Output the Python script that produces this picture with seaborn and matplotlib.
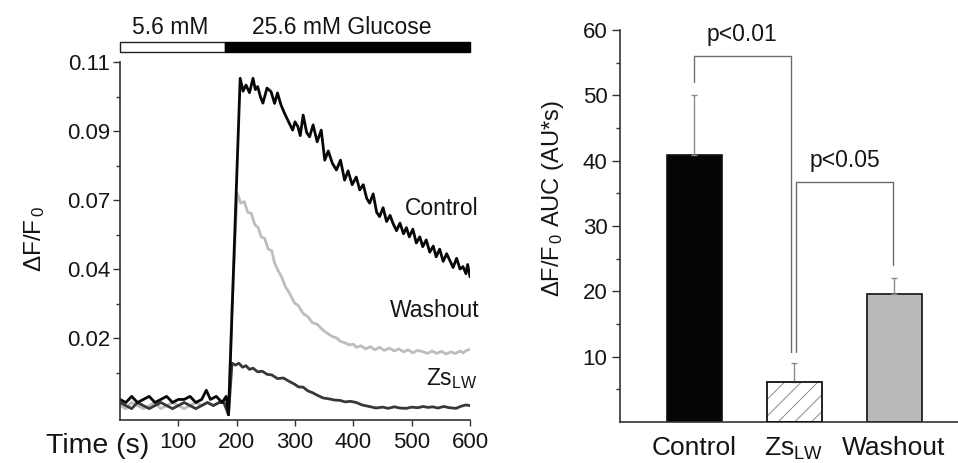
import numpy as np
import pandas as pd
import matplotlib
matplotlib.use("Agg")
import matplotlib.pyplot as plt
import seaborn as sns
from matplotlib.patches import Rectangle

# ---------------- data ----------------
ctrl_t = [0, 10, 20, 30, 40, 50, 60, 70, 80, 90, 100, 110, 120, 130, 140, 148, 155, 165, 175, 182, 186,
          196, 206, 211, 216, 222, 228, 232, 236, 241, 245, 252, 259, 265, 270, 276, 282, 289, 296, 300, 305,
          309, 314, 320, 325, 331, 338, 345, 351, 357, 364, 371, 378, 385, 391, 398, 405, 411, 417, 423, 428,
          434, 440, 445, 451, 457, 463, 468, 474, 480, 486, 491, 496, 502, 508, 514, 519, 525, 531, 537, 542,
          548, 554, 560, 565, 571, 577, 583, 588, 593, 596, 600]
ctrl_v = [0.000, -0.001, 0.001, -0.001, 0.000, 0.001, -0.001, 0.000, 0.001, -0.001, 0.000, 0.000, 0.001, -0.001, 0.000,
          0.003, 0.000, 0.001, -0.001, 0.001, -0.005,
          0.050, 0.1047, 0.1005, 0.1025, 0.1000, 0.1047, 0.1010, 0.1020, 0.0985, 0.0966,
          0.1015, 0.1003, 0.0965, 0.0999, 0.0960, 0.0933, 0.0905, 0.0878, 0.0905, 0.0889,
          0.0860, 0.0927, 0.0870, 0.0856, 0.0895, 0.0840, 0.0878, 0.0780, 0.0810, 0.0770,
          0.0748, 0.0780, 0.0715, 0.0745, 0.0700, 0.0725, 0.0683, 0.0700, 0.0655, 0.0640,
          0.0670, 0.0610, 0.0596, 0.0625, 0.0580, 0.0600, 0.0574, 0.0550, 0.0575, 0.0540,
          0.0560, 0.0530, 0.0555, 0.0510, 0.0530, 0.0498, 0.0520, 0.0480, 0.0500, 0.0465,
          0.0490, 0.0450, 0.0475, 0.0455, 0.0430, 0.0460, 0.0425, 0.0433, 0.0410, 0.0440, 0.0400]

wash_t = [0, 10, 20, 30, 40, 50, 60, 70, 80, 90, 100, 110, 120, 130, 140, 150, 160, 170, 178, 186, 192,
          201, 207, 213, 219, 225, 231, 237, 242, 248, 254, 260, 265, 271, 277, 283, 291,
          299, 306, 314, 322, 330, 338, 348, 356, 364, 372, 377, 385, 393, 400, 405, 413,
          421, 429, 437, 445, 453, 462, 470, 478, 486, 494, 502, 510, 519, 527, 535, 543,
          551, 559, 567, 575, 583, 588, 594, 600]
wash_v = [-0.002, -0.003, -0.001, -0.002, -0.003, -0.002, -0.001, -0.003, -0.002, -0.001, -0.002, -0.003,
          -0.002, -0.001, -0.002, -0.001, -0.002, -0.001, -0.001, -0.004, 0.030,
          0.0672, 0.0640, 0.0645, 0.0610, 0.0607, 0.0570, 0.0560, 0.0530,
          0.0525, 0.0490, 0.0485, 0.0445, 0.0420, 0.0400, 0.0370, 0.0345,
          0.0315, 0.0305, 0.0280, 0.0270, 0.0250, 0.0245, 0.0226, 0.0215,
          0.0205, 0.0200, 0.0190, 0.0185, 0.0178, 0.0180, 0.0170, 0.0175,
          0.0165, 0.0172, 0.0162, 0.0170, 0.0160, 0.0167, 0.0158, 0.0165,
          0.0155, 0.0162, 0.0152, 0.0160, 0.0156, 0.0150, 0.0158, 0.0150,
          0.0157, 0.0148, 0.0155, 0.0150, 0.0158, 0.0152, 0.0160, 0.0163]

zs_t = [0, 10, 20, 30, 40, 50, 60, 70, 80, 90, 100, 110, 120, 130, 140, 150, 160, 170,
        178, 186, 192, 198, 204, 210, 216, 222, 228, 236,
        244, 252, 260, 270, 280, 291, 299, 306, 314, 322,
        330, 340, 348, 358, 368, 377, 386, 395, 405, 415,
        425, 439, 450, 460, 470, 480, 491, 500, 510, 520,
        528, 536, 545, 555, 565, 576, 585, 593, 600]
zs_v = [-0.001, -0.002, -0.003, -0.001, -0.002, -0.003, -0.002, -0.001, -0.002, -0.003, -0.002, -0.001,
        -0.002, -0.003, -0.002, -0.001, -0.002, -0.001,
        -0.001, -0.005, 0.0118, 0.0112, 0.0118, 0.0105, 0.0110, 0.0098, 0.0102, 0.0090,
        0.0092, 0.0082, 0.0080, 0.0068, 0.0070, 0.0058, 0.0050, 0.0041, 0.0040, 0.0028,
        0.0022, 0.0012, 0.0005, 0.0002, -0.0002, -0.0003, -0.0008, -0.0006, -0.0010, -0.0018,
        -0.0022, -0.0028, -0.0025, -0.0029, -0.0024, -0.0028, -0.0029, -0.0025, -0.0027, -0.0023,
        -0.0026, -0.0024, -0.0028, -0.0023, -0.0027, -0.0029, -0.0022, -0.0018, -0.0020]

# left panel ticks (labels as printed)
y1_ticks = [0.02, 0.0425, 0.065, 0.0875, 0.11]
y1_labels = ["0.02", "0.04", "0.07", "0.09", "0.11"]
x1_ticks = [100, 200, 300, 400, 500, 600]

# glucose protocol bar
gluc_start = [0, 180]
gluc_end = [180, 600]
gluc_labels = ["5.6 mM", "25.6 mM Glucose"]

# right panel bars
groups = ["Control", "Zs$_{\\mathrm{LW}}$", "Washout"]
auc = [40.8, 6.1, 19.6]
auc_err = [9.2, 2.9, 2.4]
bar_colors = ["#050505", "#ffffff", "#b9b9b9"]
p_labels = ["p<0.01", "p<0.05"]

# ---------------- style ----------------
sns.set_theme(style="ticks")
plt.rcParams["font.family"] = ["Liberation Sans", "DejaVu Sans"]
plt.rcParams["mathtext.fontset"] = "custom"
plt.rcParams["mathtext.rm"] = "Liberation Sans"
plt.rcParams["mathtext.it"] = "Liberation Sans:italic"
plt.rcParams["mathtext.bf"] = "Liberation Sans:bold"
plt.rcParams["hatch.linewidth"] = 0.7

TXT = "#151515"
SPINE = "#333333"

fig = plt.figure(figsize=(9.58, 4.63), dpi=100)
ax1 = fig.add_axes([120 / 958, 1 - 420 / 463, 350 / 958, 358 / 463])
ax2 = fig.add_axes([620 / 958, 1 - 422 / 463, 338 / 958, 392 / 463])

# ---------------- left panel: traces ----------------
for t, v, c in [(wash_t, wash_v, "#bdbdbd"), (zs_t, zs_v, "#383838"), (ctrl_t, ctrl_v, "#080808")]:
    sns.lineplot(x=t, y=v, ax=ax1, color=c, lw=2.0, estimator=None, sort=False)

ax1.set_xlim(0, 600)
ax1.set_ylim(-0.0067, 0.11)
ax1.set_yticks(y1_ticks)
ax1.set_yticklabels(y1_labels)
mids = [y1_ticks[0] - (y1_ticks[1] - y1_ticks[0]) / 2] + [(a + b) / 2 for a, b in zip(y1_ticks[:-1], y1_ticks[1:])]
ax1.set_yticks(mids, minor=True)
ax1.set_xticks(x1_ticks)
ax1.set_xticklabels([str(x) for x in x1_ticks])
ax1.tick_params(axis="y", which="major", direction="out", length=5, width=1, pad=2, labelsize=16,
                colors=SPINE, labelcolor=TXT)
ax1.tick_params(axis="y", which="minor", direction="out", length=3, width=1, colors=SPINE)
ax1.tick_params(axis="x", which="major", direction="out", length=4, width=1, pad=5, labelsize=16,
                colors=SPINE, labelcolor=TXT)
sns.despine(ax=ax1)
for s in ["left", "bottom"]:
    ax1.spines[s].set_color(SPINE)
    ax1.spines[s].set_linewidth(1.2)
ax1.set_xlabel("")
ax1.set_ylabel("")

ax1.text(-0.245, 0.505, "\u0394F/F$_{\\,0}$", transform=ax1.transAxes, rotation=90,
         ha="center", va="center", fontsize=17.5, color=TXT)
ax1.annotate("Time (s)", xy=(51, -0.074), xycoords=("data", "axes fraction"),
             ha="right", va="center", fontsize=20.5, color=TXT, annotation_clip=False)

# glucose protocol bar
trans = ax1.get_xaxis_transform()
for i, (s, e) in enumerate(zip(gluc_start, gluc_end)):
    ax1.add_patch(Rectangle((s, 1.027), e - s, 0.03, transform=trans,
                            facecolor="white" if i == 0 else "black",
                            edgecolor="#222222" if i == 0 else "black", lw=1.0, clip_on=False))
ax1.text(86, 1.095, gluc_labels[0], transform=trans, ha="center", va="center", fontsize=16.5, color=TXT)
ax1.text(381, 1.095, gluc_labels[1], transform=trans, ha="center", va="center", fontsize=16.5, color=TXT)

# trace labels
ax1.text(488, 0.0601, "Control", ha="left", va="baseline", fontsize=16.5, color=TXT)
ax1.text(462, 0.0270, "Washout", ha="left", va="baseline", fontsize=16.5, color=TXT)
ax1.text(525, 0.0047, "Zs$_{\\mathrm{LW}}$", ha="left", va="baseline", fontsize=16.5, color=TXT)

# ---------------- right panel: bars ----------------
df = pd.DataFrame({"group": groups, "auc": auc})
sns.barplot(data=df, x="group", y="auc", hue="group", palette=bar_colors, width=0.55,
            errorbar=None, ax=ax2, legend=False, edgecolor="#111111", linewidth=1.2, saturation=1)
hp = ax2.patches[1]
hp.set_hatch("//")
hp.set_edgecolor("#8a8a8a")
ax2.bar(1, auc[1], width=0.55, fill=False, edgecolor="#111111", lw=1.2, zorder=3)

ax2.errorbar(x=[0, 1, 2], y=auc, yerr=[[0, 0, 0], auc_err], fmt="none", ecolor="#8a8a8a",
             elinewidth=1.0, capsize=2, capthick=1.0, zorder=1)

# significance brackets
bc = "#6e6e6e"
ax2.plot([0, 0, 0.968, 0.968], [52.0, 56.0, 56.0, 10.7], color=bc, lw=1.0, clip_on=False)
ax2.plot([1.02, 1.02, 1.99, 1.99], [10.7, 36.8, 36.8, 24.0], color=bc, lw=1.0, clip_on=False)
ax2.text(0.48, 59.3, p_labels[0], ha="center", va="center", fontsize=16.5, color=TXT)
ax2.text(1.51, 40.1, p_labels[1], ha="center", va="center", fontsize=16.5, color=TXT)

ax2.set_xlim(-0.74, 2.64)
ax2.set_ylim(0, 60)
ax2.set_yticks([10, 20, 30, 40, 50, 60])
ax2.set_yticks([5, 15, 25, 35, 45, 55], minor=True)
ax2.tick_params(axis="y", which="major", direction="out", length=6, width=1, pad=3, labelsize=16,
                colors=SPINE, labelcolor=TXT)
ax2.tick_params(axis="y", which="minor", direction="out", length=3, width=1, colors=SPINE)
ax2.tick_params(axis="x", length=0, pad=10, labelsize=19, labelcolor=TXT)
sns.despine(ax=ax2)
for s in ["left", "bottom"]:
    ax2.spines[s].set_color(SPINE)
    ax2.spines[s].set_linewidth(1.2)
ax2.set_xlabel("")
ax2.set_ylabel("")
ax2.text(-0.198, 0.571, "\u0394F/F$_{\\,0}$ AUC (AU*s)", transform=ax2.transAxes, rotation=90,
         ha="center", va="center", fontsize=17, color=TXT)

fig.savefig("out.png", dpi=100)
